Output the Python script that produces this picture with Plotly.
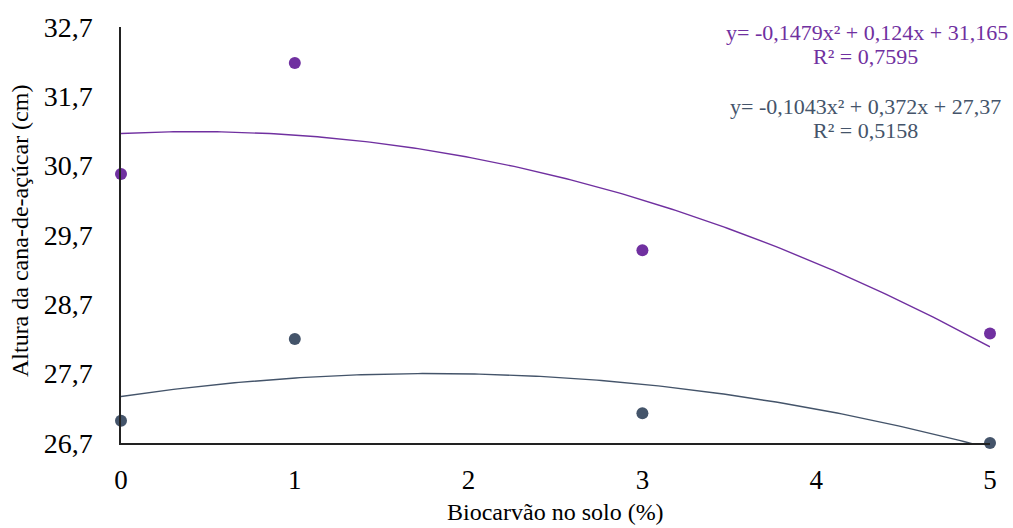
import numpy as np
import plotly.graph_objects as go

# Data
x_vals = [0, 1, 3, 5]
purple_y = [30.58, 32.18, 29.48, 28.28]
dark_y = [27.02, 28.20, 27.13, 26.70]
purple_coef = [-0.1479, 0.124, 31.165]
dark_coef = [-0.1043, 0.372, 27.37]
y_ticks = [26.7, 27.7, 28.7, 29.7, 30.7, 31.7, 32.7]
y_tick_text = ["26,7", "27,7", "28,7", "29,7", "30,7", "31,7", "32,7"]
x_ticks = [0, 1, 2, 3, 4, 5]
eq_purple = ["y= -0,1479x² + 0,124x + 31,165", "R² = 0,7595"]
eq_dark = ["y= -0,1043x² + 0,372x + 27,37", "R² = 0,5158"]
x_title = "Biocarvão no solo (%)"
y_title = "Altura da cana-de-açúcar (cm)"

PURPLE = "#7030A0"
DARK = "#44546A"
FONT = "Liberation Serif"

xs = np.linspace(0, 5, 200)

fig = go.Figure()
fig.add_trace(go.Scatter(x=xs, y=np.polyval(purple_coef, xs), mode="lines",
                         line=dict(color=PURPLE, width=1.4), cliponaxis=True, showlegend=False))
fig.add_trace(go.Scatter(x=xs, y=np.polyval(dark_coef, xs), mode="lines",
                         line=dict(color=DARK, width=1.4), cliponaxis=True, showlegend=False))
fig.add_trace(go.Scatter(x=x_vals, y=purple_y, mode="markers",
                         marker=dict(color=PURPLE, size=12), cliponaxis=False, showlegend=False))
fig.add_trace(go.Scatter(x=x_vals, y=dark_y, mode="markers",
                         marker=dict(color=DARK, size=12), cliponaxis=False, showlegend=False))

fig.update_layout(
    width=1013, height=528,
    margin=dict(l=121, r=23, t=27, b=85),
    paper_bgcolor="white", plot_bgcolor="white",
    font=dict(family=FONT, color="black"),
    xaxis=dict(range=[0, 5], tickvals=x_ticks, showgrid=False, zeroline=False,
               showline=True, linecolor="#222", linewidth=1.5, ticks="", automargin=False,
               tickfont=dict(size=27, family=FONT), ticklabelstandoff=12),
    yaxis=dict(range=[26.7, 32.7], tickvals=y_ticks, ticktext=y_tick_text, showgrid=False,
               zeroline=False, showline=True, linecolor="#222", linewidth=1.5, ticks="",
               automargin=False, tickfont=dict(size=28, family=FONT), ticklabelstandoff=21),
)

fig.add_annotation(xref="paper", yref="paper", x=0.5, y=-0.165, xanchor="center", yanchor="middle",
                   text=x_title, showarrow=False, font=dict(size=24, family=FONT, color="black"))
fig.add_annotation(xref="paper", yref="paper", x=-0.116, y=0.51, xanchor="center", yanchor="middle",
                   text=y_title, textangle=-90, showarrow=False,
                   font=dict(size=24, family=FONT, color="black"))

fig.add_annotation(xref="paper", yref="paper", x=1.023, y=0.986, xanchor="right", yanchor="middle",
                   text=eq_purple[0], showarrow=False, font=dict(size=22, color=PURPLE, family=FONT))
fig.add_annotation(x=0.857, y=0.928, xref="paper", yref="paper", xanchor="center", yanchor="middle",
                   text=eq_purple[1], showarrow=False, font=dict(size=22, color=PURPLE, family=FONT))
fig.add_annotation(xref="paper", yref="paper", x=1.015, y=0.808, xanchor="right", yanchor="middle",
                   text=eq_dark[0], showarrow=False, font=dict(size=22, color=DARK, family=FONT))
fig.add_annotation(x=0.857, y=0.752, xref="paper", yref="paper", xanchor="center", yanchor="middle",
                   text=eq_dark[1], showarrow=False, font=dict(size=22, color=DARK, family=FONT))

fig.write_html("out.html", config={"displayModeBar": False},
               post_script="document.body.style.margin='0';document.body.style.overflow='hidden';")
